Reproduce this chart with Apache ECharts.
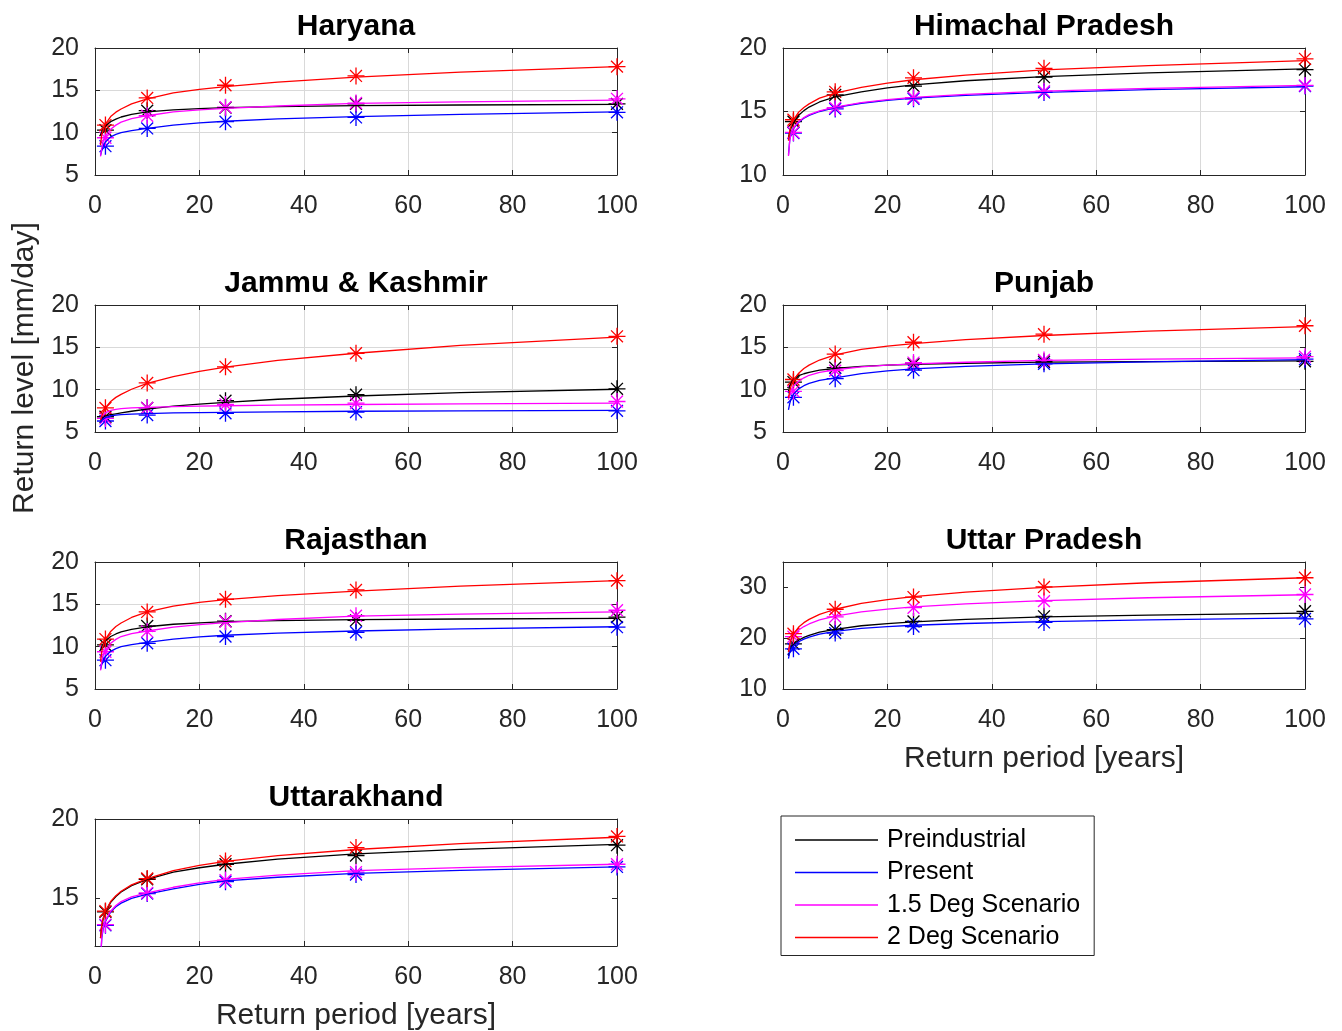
<!DOCTYPE html>
<html>
<head>
<meta charset="utf-8">
<script src="https://cdn.jsdelivr.net/npm/echarts@6/dist/echarts.min.js"></script>
<style>
html,body{margin:0;padding:0;background:#fff;}
#chart{width:1342px;height:1031px;}
</style>
</head>
<body>
<div id="chart"></div>
<script>
// ---------------- data ----------------
const STATES = ['Haryana', 'Himachal Pradesh', 'Jammu & Kashmir', 'Punjab', 'Rajasthan', 'Uttar Pradesh', 'Uttarakhand'];
const SCENARIOS = ['Preindustrial', 'Present', '1.5 Deg Scenario', '2 Deg Scenario'];
const X_TICKS = [0, 20, 40, 60, 80, 100];
const T_CURVE = [1.05, 1.3, 1.6, 2, 3, 4, 5, 7, 10, 15, 20, 25, 35, 50, 70, 100];
// return periods of the star estimates
const T_POINTS = [2, 10, 25, 50, 100];

const Y_MIN = [5, 10, 5, 5, 5, 10, 12];
const Y_MAX = [20, 20, 20, 20, 20, 35, 20];
const Y_TICKS_HARYANA = [5, 10, 15, 20];
const Y_TICKS_HIMACHAL = [10, 15, 20];
const Y_TICKS_JK = [5, 10, 15, 20];
const Y_TICKS_PUNJAB = [5, 10, 15, 20];
const Y_TICKS_RAJASTHAN = [5, 10, 15, 20];
const Y_TICKS_UP = [10, 20, 30];
const Y_TICKS_UK = [15, 20];

// Haryana
const haryana_pre = [9.7, 10.1, 10.45, 10.8, 11.3, 11.6, 11.85, 12.15, 12.45, 12.7, 12.84, 12.95, 13.07, 13.2, 13.27, 13.35];
const haryana_present = [7.3, 7.9, 8.5, 8.9, 9.5, 9.79, 10.0, 10.25, 10.5, 10.9, 11.15, 11.35, 11.62, 11.9, 12.17, 12.45];
const haryana_15 = [7.2, 8.2, 9.0, 9.6, 10.4, 10.89, 11.25, 11.65, 12.0, 12.45, 12.69, 12.87, 13.15, 13.45, 13.64, 13.85];
const haryana_2 = [8.5, 9.8, 10.4, 11.0, 11.9, 12.42, 12.8, 13.4, 14.0, 14.7, 15.12, 15.45, 15.98, 16.55, 17.16, 17.8];
const haryana_pre_pts = [10.3, 12.6, 12.95, 13.4, 13.4];
const haryana_present_pts = [8.4, 10.5, 11.3, 11.8, 12.4];
const haryana_15_pts = [9.4, 12.0, 13.0, 13.5, 14.0];
const haryana_2_pts = [10.9, 14.1, 15.6, 16.7, 17.8];

// Himachal Pradesh
const himachal_pre = [13.0, 13.4, 13.75, 14.1, 14.7, 15.07, 15.35, 15.75, 16.15, 16.55, 16.86, 17.1, 17.42, 17.75, 18.04, 18.35];
const himachal_present = [11.6, 12.8, 13.3, 13.65, 14.15, 14.47, 14.7, 15.0, 15.3, 15.65, 15.88, 16.05, 16.27, 16.5, 16.72, 16.95];
const himachal_15 = [11.5, 12.75, 13.3, 13.7, 14.2, 14.52, 14.75, 15.05, 15.35, 15.7, 15.94, 16.12, 16.35, 16.6, 16.82, 17.05];
const himachal_2 = [12.7, 13.5, 13.95, 14.35, 14.95, 15.32, 15.6, 16.05, 16.45, 16.9, 17.24, 17.5, 17.87, 18.27, 18.62, 19.0];
const himachal_pre_pts = [14.2, 16.3, 17.0, 17.7, 18.3];
const himachal_present_pts = [13.3, 15.2, 16.0, 16.5, 17.0];
const himachal_15_pts = [13.35, 15.3, 16.1, 16.6, 17.05];
const himachal_2_pts = [14.35, 16.55, 17.65, 18.4, 19.15];

// Jammu & Kashmir
const jk_pre = [6.4, 6.6, 6.75, 6.9, 7.05, 7.15, 7.25, 7.45, 7.7, 8.05, 8.3, 8.5, 8.87, 9.25, 9.64, 10.05];
const jk_present = [6.1, 6.4, 6.6, 6.7, 6.9, 6.99, 7.05, 7.1, 7.17, 7.25, 7.29, 7.32, 7.38, 7.45, 7.5, 7.55];
const jk_15 = [6.6, 6.9, 7.1, 7.25, 7.55, 7.67, 7.75, 7.85, 7.92, 8.0, 8.06, 8.1, 8.17, 8.25, 8.32, 8.4];
const jk_2 = [6.4, 6.9, 7.35, 7.85, 8.6, 9.09, 9.45, 10.05, 10.75, 11.55, 12.17, 12.65, 13.45, 14.3, 15.22, 16.2];
const jk_pre_pts = [6.8, 7.85, 8.7, 9.4, 10.1];
const jk_present_pts = [6.3, 7.0, 7.2, 7.35, 7.5];
const jk_15_pts = [6.6, 7.85, 8.25, 8.4, 8.6];
const jk_2_pts = [7.85, 10.8, 12.7, 14.3, 16.3];

// Punjab
const punjab_pre = [9.8, 10.45, 10.85, 11.2, 11.65, 11.88, 12.05, 12.3, 12.5, 12.75, 12.89, 13.0, 13.12, 13.25, 13.32, 13.4];
const punjab_present = [7.6, 8.4, 9.0, 9.45, 10.1, 10.47, 10.75, 11.1, 11.4, 11.9, 12.21, 12.45, 12.74, 13.05, 13.29, 13.55];
const punjab_15 = [8.8, 9.5, 10.0, 10.4, 11.0, 11.4, 11.7, 12.05, 12.35, 12.7, 12.9, 13.05, 13.24, 13.45, 13.6, 13.75];
const punjab_2 = [9.0, 9.9, 10.55, 11.1, 11.95, 12.5, 12.9, 13.5, 14.1, 14.75, 15.14, 15.45, 15.91, 16.4, 16.91, 17.45];
const punjab_pre_pts = [10.9, 12.6, 13.0, 13.3, 13.35];
const punjab_present_pts = [9.1, 11.3, 12.3, 13.05, 13.6];
const punjab_15_pts = [9.8, 12.25, 13.2, 13.5, 13.9];
const punjab_2_pts = [11.2, 14.2, 15.6, 16.55, 17.55];

// Rajasthan
const rajasthan_pre = [9.6, 10.0, 10.35, 10.7, 11.2, 11.5, 11.75, 12.05, 12.35, 12.65, 12.82, 12.95, 13.07, 13.2, 13.27, 13.35];
const rajasthan_present = [7.3, 7.9, 8.45, 8.85, 9.45, 9.77, 10.0, 10.25, 10.5, 10.9, 11.15, 11.35, 11.59, 11.85, 12.09, 12.35];
const rajasthan_15 = [7.2, 8.3, 9.0, 9.55, 10.4, 10.86, 11.2, 11.55, 11.85, 12.3, 12.61, 12.85, 13.21, 13.6, 13.84, 14.1];
const rajasthan_2 = [8.2, 9.45, 10.2, 10.85, 11.8, 12.38, 12.8, 13.45, 14.1, 14.8, 15.22, 15.55, 16.04, 16.55, 17.16, 17.8];
const rajasthan_pre_pts = [10.2, 12.45, 13.0, 13.1, 13.5];
const rajasthan_present_pts = [8.4, 10.4, 11.2, 11.7, 12.3];
const rajasthan_15_pts = [9.4, 11.8, 12.95, 13.65, 14.3];
const rajasthan_2_pts = [10.9, 14.1, 15.6, 16.7, 17.8];

// Uttar Pradesh
const up_pre = [16.5, 17.5, 18.2, 18.75, 19.6, 20.15, 20.55, 21.2, 21.75, 22.45, 22.87, 23.2, 23.69, 24.2, 24.56, 24.95];
const up_present = [16.0, 17.3, 18.0, 18.5, 19.3, 19.82, 20.2, 20.8, 21.35, 21.95, 22.29, 22.55, 22.89, 23.25, 23.61, 24.0];
const up_15 = [17.3, 18.9, 19.8, 20.5, 21.6, 22.29, 22.8, 23.6, 24.35, 25.2, 25.74, 26.15, 26.76, 27.4, 27.96, 28.55];
const up_2 = [17.3, 18.9, 19.9, 20.8, 22.2, 23.06, 23.7, 24.7, 25.7, 26.85, 27.61, 28.2, 29.07, 30.0, 30.92, 31.9];
const up_pre_pts = [18.9, 21.7, 23.3, 24.3, 25.3];
const up_present_pts = [17.9, 21.0, 22.3, 23.1, 23.8];
const up_15_pts = [20.3, 24.2, 26.0, 27.3, 28.6];
const up_2_pts = [20.9, 25.7, 28.1, 30.1, 31.9];

// Uttarakhand
const uk_pre = [12.5, 13.3, 13.75, 14.15, 14.75, 15.12, 15.4, 15.8, 16.2, 16.65, 16.93, 17.15, 17.47, 17.8, 18.09, 18.4];
const uk_present = [10.9, 12.5, 13.15, 13.55, 14.15, 14.47, 14.7, 15.0, 15.27, 15.6, 15.88, 16.1, 16.33, 16.57, 16.77, 16.98];
const uk_15 = [11.0, 12.6, 13.2, 13.6, 14.2, 14.55, 14.8, 15.1, 15.35, 15.7, 15.98, 16.2, 16.47, 16.75, 16.94, 17.15];
const uk_2 = [12.5, 13.35, 13.8, 14.2, 14.8, 15.17, 15.45, 15.85, 16.25, 16.75, 17.08, 17.33, 17.69, 18.08, 18.45, 18.85];
const uk_pre_pts = [14.15, 16.2, 17.15, 17.7, 18.35];
const uk_present_pts = [13.3, 15.3, 16.05, 16.5, 16.98];
const uk_15_pts = [13.35, 15.35, 16.15, 16.65, 17.15];
const uk_2_pts = [14.2, 16.25, 17.35, 18.2, 18.9];

// ---------------- assembly ----------------
const Y_TICKS = [Y_TICKS_HARYANA, Y_TICKS_HIMACHAL, Y_TICKS_JK, Y_TICKS_PUNJAB, Y_TICKS_RAJASTHAN, Y_TICKS_UP, Y_TICKS_UK];
const CURVES = [
  [haryana_pre, haryana_present, haryana_15, haryana_2],
  [himachal_pre, himachal_present, himachal_15, himachal_2],
  [jk_pre, jk_present, jk_15, jk_2],
  [punjab_pre, punjab_present, punjab_15, punjab_2],
  [rajasthan_pre, rajasthan_present, rajasthan_15, rajasthan_2],
  [up_pre, up_present, up_15, up_2],
  [uk_pre, uk_present, uk_15, uk_2]
];
const POINTS = [
  [haryana_pre_pts, haryana_present_pts, haryana_15_pts, haryana_2_pts],
  [himachal_pre_pts, himachal_present_pts, himachal_15_pts, himachal_2_pts],
  [jk_pre_pts, jk_present_pts, jk_15_pts, jk_2_pts],
  [punjab_pre_pts, punjab_present_pts, punjab_15_pts, punjab_2_pts],
  [rajasthan_pre_pts, rajasthan_present_pts, rajasthan_15_pts, rajasthan_2_pts],
  [up_pre_pts, up_present_pts, up_15_pts, up_2_pts],
  [uk_pre_pts, uk_present_pts, uk_15_pts, uk_2_pts]
];

const COLORS = ['#000000', '#0000ff', '#ff00ff', '#ff0000'];
const FONT = '"Liberation Sans", Arial, Helvetica, sans-serif';
const AX = '#262626';
const GRIDC = '#d9d9d9';
const COL_LEFT = [95, 783];
const ROW_TOP = [48, 305, 562, 819];
const PW = 522, PH = 127;
const STAR = 'path://M10,0L10,20M0,10L20,10M3,3L17,17M3,17L17,3';

const grids = [], xAxes = [], yAxes = [], titles = [], series = [];
const topX = [], rightY = [];
STATES.forEach((name, i) => {
  const left = COL_LEFT[i % 2];
  const top = ROW_TOP[Math.floor(i / 2)];
  grids.push({ left: left, top: top, width: PW, height: PH, containLabel: false });
  titles.push({
    text: name, left: left + PW / 2, top: top - 36, textAlign: 'center', padding: 0,
    textStyle: { fontFamily: FONT, fontSize: 30, fontWeight: 'bold', color: '#000', lineHeight: 30 }
  });
  xAxes.push({
    type: 'value', gridIndex: i, min: 0, max: 100, interval: 20, position: 'bottom',
    axisLine: { show: true, onZero: false, lineStyle: { color: AX, width: 1 } },
    axisTick: { show: true, inside: true, length: 5, lineStyle: { color: AX } },
    axisLabel: { show: true, margin: 19, fontSize: 25, color: AX, fontFamily: FONT, customValues: X_TICKS },
    splitLine: { show: true, showMinLine: false, showMaxLine: false, lineStyle: { color: GRIDC, width: 1 } }
  });
  topX.push({
    type: 'value', gridIndex: i, min: 0, max: 100, interval: 20, position: 'top',
    axisLine: { show: true, onZero: false, lineStyle: { color: AX, width: 1 } },
    axisTick: { show: true, inside: true, length: 5, lineStyle: { color: AX } },
    axisLabel: { show: false }, splitLine: { show: false }
  });
  yAxes.push({
    type: 'value', gridIndex: i, min: Y_MIN[i], max: Y_MAX[i], position: 'left',
    axisLine: { show: true, onZero: false, lineStyle: { color: AX, width: 1 } },
    axisTick: { show: true, inside: true, length: 5, lineStyle: { color: AX }, customValues: Y_TICKS[i] },
    axisLabel: { show: true, margin: 16, fontSize: 25, color: AX, fontFamily: FONT, customValues: Y_TICKS[i] },
    splitLine: { show: true, showMinLine: false, showMaxLine: false, lineStyle: { color: GRIDC, width: 1 } }
  });
  rightY.push({
    type: 'value', gridIndex: i, min: Y_MIN[i], max: Y_MAX[i], position: 'right',
    axisLine: { show: true, onZero: false, lineStyle: { color: AX, width: 1 } },
    axisTick: { show: true, inside: true, length: 5, lineStyle: { color: AX }, customValues: Y_TICKS[i] },
    axisLabel: { show: false }, splitLine: { show: false }
  });
  SCENARIOS.forEach((sc, j) => {
    series.push({
      type: 'line', name: sc, xAxisIndex: i, yAxisIndex: i,
      data: T_CURVE.map((t, k) => [t, CURVES[i][j][k]]),
      showSymbol: false, symbol: 'none', smooth: false,
      lineStyle: { color: COLORS[j], width: 1.3 }, itemStyle: { color: COLORS[j] },
      silent: true
    });
    series.push({
      type: 'scatter', name: sc + ' (estimate)', xAxisIndex: i, yAxisIndex: i,
      data: T_POINTS.map((t, k) => [t, POINTS[i][j][k]]),
      symbol: STAR, symbolSize: 17, clip: false,
      itemStyle: { color: COLORS[j], borderColor: COLORS[j], borderWidth: 1.3, opacity: 1 },
      silent: true
    });
  });
});

const chart = echarts.init(document.getElementById('chart'), null, { renderer: 'canvas' });
chart.setOption({
  animation: false,
  backgroundColor: '#ffffff',
  textStyle: { fontFamily: FONT },
  title: titles,
  grid: grids,
  xAxis: xAxes.concat(topX),
  yAxis: yAxes.concat(rightY),
  legend: {
    orient: 'vertical', left: 781, top: 816, selectedMode: false,
    data: SCENARIOS, icon: 'rect', itemWidth: 83, itemHeight: 1.5, itemGap: 0.5,
    padding: [8, 14, 2, 14],
    borderColor: AX, borderWidth: 1, backgroundColor: '#fff',
    textStyle: { fontFamily: FONT, fontSize: 25, color: '#000', lineHeight: 32, padding: [0, 0, 0, 4] }
  },
  graphic: [
    { type: 'text', x: 25, y: 368, rotation: Math.PI / 2,
      style: { text: 'Return level [mm/day]', fontFamily: FONT, fontSize: 30, fill: AX, textAlign: 'center', textVerticalAlign: 'middle' } },
    { type: 'text', x: 1044, y: 759,
      style: { text: 'Return period [years]', fontFamily: FONT, fontSize: 30, fill: AX, textAlign: 'center', textVerticalAlign: 'middle' } },
    { type: 'text', x: 356, y: 1016,
      style: { text: 'Return period [years]', fontFamily: FONT, fontSize: 30, fill: AX, textAlign: 'center', textVerticalAlign: 'middle' } }
  ],
  series: series
});
</script>
</body>
</html>
